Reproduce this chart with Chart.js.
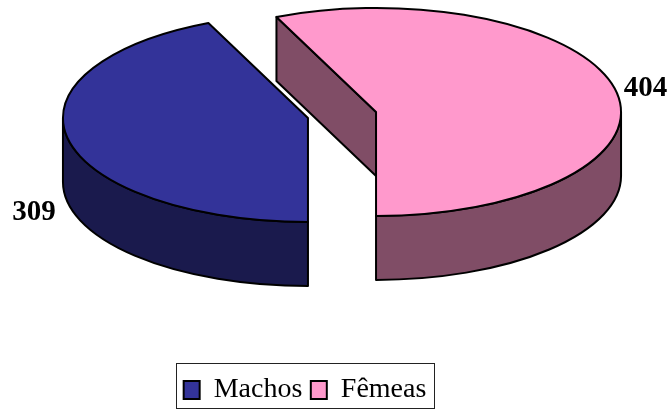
<!DOCTYPE html>
<html><head><meta charset="utf-8">
<script src="https://cdn.jsdelivr.net/npm/chart.js@4"></script>
<style>html,body{margin:0;padding:0;background:#fff}canvas{display:block}</style>
</head><body><canvas id="c" width="672" height="410"></canvas>
<script>
const categories = ['Machos', 'Fêmeas'];
const values = [309, 404];
const topColors = ['#333399', '#ff99cc'];
const sideColors = ['#1a1a4d', '#804d66'];

const FONT = '"Liberation Serif", "Times New Roman", serif';
const view = {x: 342, y: 115, squash: 0.4245, depth: 64, explode: 34.8, line: 2};
let centre = null;

function screenOf(arc) {
  return {x: view.x + arc.x - centre.x, y: view.y + (arc.y - centre.y) * view.squash};
}
const pie3d = {
  id: 'pie3d',
  afterDatasetUpdate(chart) {
    const arcs = chart.getDatasetMeta(0).data;
    centre = {x: arcs[0].x, y: arcs[0].y};
    arcs.forEach(a => {
      const mid = (a.startAngle + a.endAngle) / 2;
      a.x = centre.x + Math.cos(mid) * view.explode;
      a.y = centre.y + Math.sin(mid) * view.explode;
    });
  },
  beforeDatasetsDraw(chart) {
    const ctx = chart.ctx, arcs = chart.getDatasetMeta(0).data;
    ctx.save();
    ctx.strokeStyle = '#000'; ctx.lineWidth = view.line; ctx.lineJoin = 'round';
    arcs.forEach((a, i) => {
      const p = screenOf(a), r = a.outerRadius, ry = r * view.squash;
      ctx.fillStyle = sideColors[i];
      [[a.startAngle, -Math.PI / 2], [a.endAngle, Math.PI / 2]].forEach(([ang, turn]) => {
        if (Math.sin(ang + turn) <= 1e-6) return;
        const ex = p.x + Math.cos(ang) * r, ey = p.y + Math.sin(ang) * ry;
        ctx.beginPath();
        ctx.moveTo(p.x, p.y); ctx.lineTo(ex, ey);
        ctx.lineTo(ex, ey + view.depth); ctx.lineTo(p.x, p.y + view.depth);
        ctx.closePath(); ctx.fill(); ctx.stroke();
      });
      [0, Math.PI * 2].forEach(base => {
        const s = Math.max(a.startAngle, base), e = Math.min(a.endAngle, base + Math.PI);
        if (e <= s) return;
        ctx.beginPath();
        ctx.ellipse(p.x, p.y, r, ry, 0, s, e);
        ctx.ellipse(p.x, p.y + view.depth, r, ry, 0, e, s, true);
        ctx.closePath(); ctx.fill(); ctx.stroke();
      });
    });
    ctx.restore();
    ctx.save();
    ctx.translate(view.x, view.y);
    ctx.scale(1, view.squash);
    ctx.translate(-centre.x, -centre.y);
  },
  afterDatasetsDraw(chart) {
    const ctx = chart.ctx, arcs = chart.getDatasetMeta(0).data;
    ctx.restore();
    ctx.save();
    ctx.strokeStyle = '#000'; ctx.lineWidth = view.line; ctx.lineJoin = 'round';
    arcs.forEach((a, i) => {
      const p = screenOf(a), r = a.outerRadius, ry = r * view.squash;
      ctx.beginPath();
      ctx.moveTo(p.x, p.y);
      ctx.ellipse(p.x, p.y, r, ry, 0, a.startAngle, a.endAngle);
      ctx.closePath(); ctx.stroke();
      const mid = (a.startAngle + a.endAngle) / 2;
      const ex = p.x + Math.cos(mid) * r, ey = p.y + Math.sin(mid) * ry;
      const lower = Math.sin(mid) > 0;
      ctx.fillStyle = '#000';
      ctx.font = 'bold 29px ' + FONT;
      ctx.textBaseline = 'middle';
      ctx.textAlign = Math.cos(mid) > 0 ? 'left' : 'right';
      ctx.fillText(String(values[i]),
        ex + (Math.cos(mid) > 0 ? 8 : -12.5),
        ey + (lower ? view.depth + 8.5 : -1.5));
    });
    ctx.restore();
  },
  afterDraw(chart) {
    const boxes = chart.legend.legendHitBoxes, ctx = chart.ctx;
    const left = Math.min(...boxes.map(b => b.left)) - 8;
    const right = Math.max(...boxes.map(b => b.left + b.width)) + 7;
    const top = boxes[0].top - 13;
    const bottom = top + 45;
    ctx.save();
    ctx.strokeStyle = '#222'; ctx.lineWidth = 1;
    ctx.strokeRect(Math.round(left) + .5, Math.round(top) + .5, Math.round(right - left), Math.round(bottom - top));
    ctx.restore();
  }
};

new Chart(document.getElementById('c'), {
  type: 'pie',
  plugins: [pie3d],
  data: {
    labels: categories,
    datasets: [{data: values, backgroundColor: topColors, borderWidth: 0, radius: 245, clip: false}]
  },
  options: {
    responsive: false,
    animation: false,
    rotation: 180,
    layout: {padding: {right: 62, bottom: -4}},
    plugins: {
      tooltip: {enabled: false},
      legend: {
        position: 'bottom',
        labels: {
          boxWidth: 16, boxHeight: 18, padding: 8.5,
          color: '#000',
          font: {family: FONT, size: 28},
          generateLabels: () => categories.map((t, i) => ({
            text: t, fillStyle: topColors[i], strokeStyle: '#000', lineWidth: 2, index: i
          }))
        }
      }
    }
  }
});
</script></body></html>
